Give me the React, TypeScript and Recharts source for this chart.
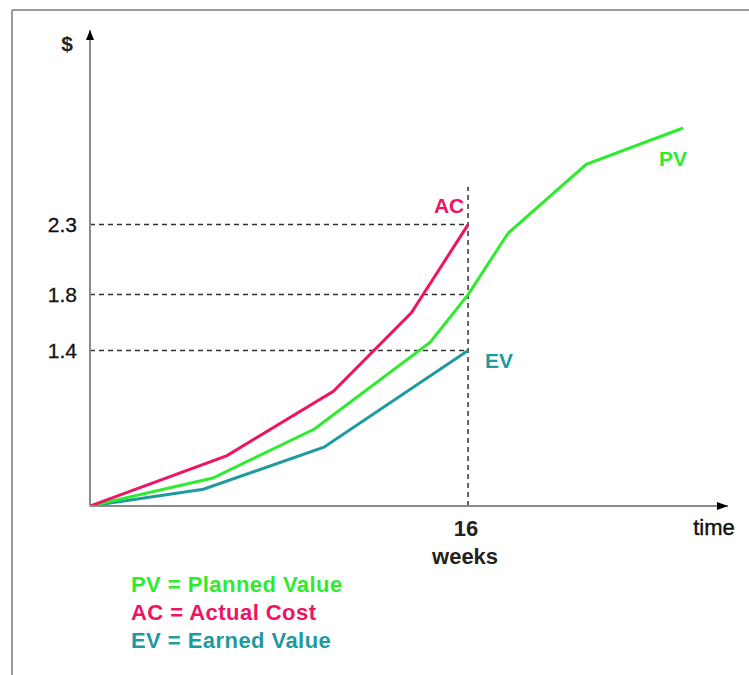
import React from 'react';
import { LineChart, Line, XAxis, YAxis, ReferenceLine, ReferenceDot } from 'recharts';

// weeks / value pairs (the value axis does not start at zero)
const pvWeeks = [0, 5.2, 9.5, 14.4, 16, 17.7, 21, 25.1];
const pvValues = [0.29, 0.49, 0.84, 1.46, 1.8, 2.24, 2.73, 2.99];
const acWeeks = [0, 5.8, 10.3, 13.6, 16];
const acValues = [0.29, 0.65, 1.11, 1.67, 2.3];
const evWeeks = [0, 4.8, 9.9, 16];
const evValues = [0.29, 0.41, 0.71, 1.4];

const valueTicks = [1.4, 1.8, 2.3];
const weekTicks = [16];
const statusWeek = 16;
const dashTop = 2.57;

const legendItems = [
  { text: 'PV = Planned Value', color: '#2DEB2D' },
  { text: 'AC = Actual Cost', color: '#EE1463' },
  { text: 'EV = Earned Value', color: '#1F9A9E' },
];

const PV_COLOR = '#2DEB2D';
const AC_COLOR = '#EE1463';
const EV_COLOR = '#1F9A9E';
const FONT = '"Liberation Sans", Arial, Helvetica, sans-serif';

const toPoints = (weeks: number[], values: number[]) =>
  weeks.map((w, i) => ({ week: w, value: values[i] }));

const pvData = toPoints(pvWeeks, pvValues);
const acData = toPoints(acWeeks, acValues);
const evData = toPoints(evWeeks, evValues);

const X_DOMAIN: [number, number] = [0, 27];
const Y_DOMAIN: [number, number] = [0.29, 3.69];

// x-axis tick: "16" with "weeks" under it
const WeekTick = (props: any) => {
  const { x, y, payload } = props;
  return (
    <g>
      <text x={x - 2} y={y + 22} textAnchor="middle" fontFamily={FONT} fontWeight="bold" fontSize={22} fill="#222">
        {payload.value}
      </text>
      <text x={x - 3} y={y + 50} textAnchor="middle" fontFamily={FONT} fontWeight="bold" fontSize={22} fill="#222">
        weeks
      </text>
    </g>
  );
};

// text label placed relative to a series end point
const seriesLabel = (text: string, color: string, dx: number, dy: number) => (props: any) => (
  <text
    x={props.cx + dx}
    y={props.cy + dy}
    textAnchor="middle"
    dominantBaseline="central"
    fontFamily={FONT}
    fontWeight="bold"
    fontSize={21}
    fill={color}
  >
    {text}
  </text>
);

const upArrow = (props: any) => (
  <path d={`M${props.cx - 4},${props.cy + 10} L${props.cx},${props.cy} L${props.cx + 4},${props.cy + 10} Z`} fill="#000" />
);
const rightArrow = (props: any) => (
  <path d={`M${props.cx - 11},${props.cy - 4} L${props.cx},${props.cy} L${props.cx - 11},${props.cy + 4} Z`} fill="#000" />
);

const dashStyle = { stroke: '#333', strokeWidth: 1.5, strokeDasharray: '5 4' };

export default function App() {
  return (
    <div style={{ position: 'absolute', left: 0, top: 0, width: 749, height: 675, background: '#fff' }}>
      <LineChart width={749} height={675} margin={{ top: 30, right: 21, bottom: 139, left: 0 }}>
        <XAxis
          type="number"
          dataKey="week"
          domain={X_DOMAIN}
          ticks={weekTicks}
          tick={<WeekTick />}
          height={30}
          tickLine={false}
          axisLine={{ stroke: '#8a8a8a', strokeWidth: 2 }}
          allowDataOverflow
        />
        <YAxis
          type="number"
          dataKey="value"
          domain={Y_DOMAIN}
          ticks={valueTicks}
          width={90}
          tickLine={false}
          tickMargin={7}
          tick={{ fontFamily: FONT, fontSize: 21, fill: '#111', stroke: '#111', strokeWidth: 0.3 }}
          axisLine={{ stroke: '#8a8a8a', strokeWidth: 2 }}
          allowDataOverflow
        />

        {valueTicks.map((v) => (
          <ReferenceLine
            key={v}
            segment={[{ x: 0, y: v }, { x: statusWeek, y: v }]}
            {...dashStyle}
          />
        ))}
        <ReferenceLine segment={[{ x: statusWeek, y: Y_DOMAIN[0] }, { x: statusWeek, y: dashTop }]} {...dashStyle} />

        <Line data={evData} dataKey="value" type="linear" stroke={EV_COLOR} strokeWidth={3} dot={false} isAnimationActive={false} />
        <Line data={pvData} dataKey="value" type="linear" stroke={PV_COLOR} strokeWidth={3} dot={false} isAnimationActive={false} />
        <Line data={acData} dataKey="value" type="linear" stroke={AC_COLOR} strokeWidth={3} dot={false} isAnimationActive={false} />

        <ReferenceDot x={acWeeks[acWeeks.length - 1]} y={acValues[acValues.length - 1]} shape={seriesLabel('AC', AC_COLOR, -19, -19)} />
        <ReferenceDot x={pvWeeks[pvWeeks.length - 1]} y={pvValues[pvValues.length - 1]} shape={seriesLabel('PV', PV_COLOR, -10, 30)} />
        <ReferenceDot x={evWeeks[evWeeks.length - 1]} y={evValues[evValues.length - 1]} shape={seriesLabel('EV', EV_COLOR, 31, 10)} />

        <ReferenceDot x={0} y={Y_DOMAIN[1]} shape={upArrow} />
        <ReferenceDot x={X_DOMAIN[1]} y={Y_DOMAIN[0]} shape={rightArrow} />
      </LineChart>

      <svg width={749} height={675} style={{ position: 'absolute', left: 0, top: 0, pointerEvents: 'none' }}>
        <line x1={12} y1={10} x2={749} y2={10} stroke="#999" strokeWidth={2} />
        <line x1={12} y1={10} x2={12} y2={675} stroke="#999" strokeWidth={2} />
        <text x={67} y={51} textAnchor="middle" fontFamily={FONT} fontWeight="bold" fontSize={21} fill="#222">$</text>
        <text x={714} y={535} textAnchor="middle" fontFamily={FONT} fontSize={22} fill="#111" stroke="#111" strokeWidth={0.4}>time</text>
        {legendItems.map((item, i) => (
          <text key={item.text} x={131} y={592 + i * 28} fontFamily={FONT} fontWeight="bold" fontSize={22} letterSpacing={0.45} fill={item.color}>
            {item.text}
          </text>
        ))}
      </svg>
    </div>
  );
}
